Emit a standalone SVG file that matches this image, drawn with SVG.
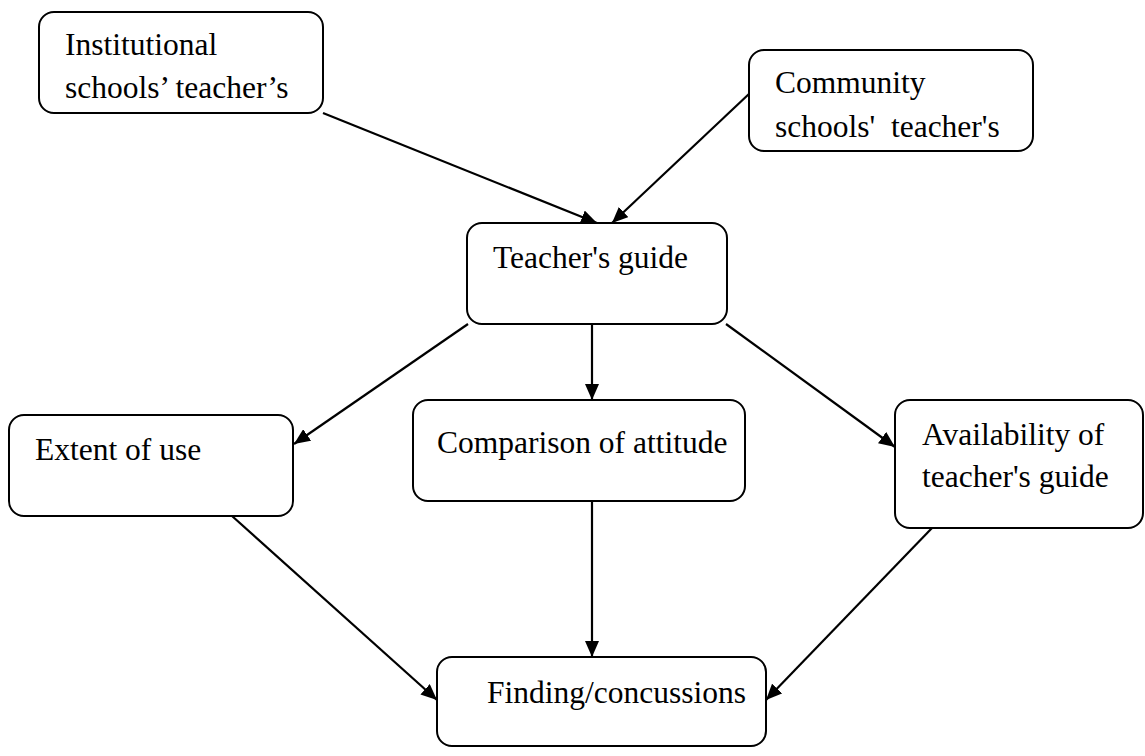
<svg xmlns="http://www.w3.org/2000/svg" width="1145" height="756" viewBox="0 0 1145 756">
<style>
.box{fill:#fff;stroke:#000;stroke-width:2}
.t{font-family:'Liberation Serif','Times New Roman','DejaVu Serif',serif;font-size:31.5px;fill:#000}
.c{stroke:#000;stroke-width:2.2;fill:none;marker-end:url(#ah)}
</style>
<defs>
<marker id="ah" viewBox="0 0 16 14" refX="16" refY="7" markerWidth="16" markerHeight="14" markerUnits="userSpaceOnUse" orient="auto">
<path d="M0,0 L16,7 L0,14 Z" fill="#000"/>
</marker>
</defs>
<rect width="1145" height="756" fill="#fff"/>
<g id="connectors">
<line class="c" x1="323" y1="113" x2="597" y2="223"/>
<line class="c" x1="750" y1="93" x2="612" y2="223"/>
<line class="c" x1="468" y1="324" x2="294" y2="444"/>
<line class="c" x1="592" y1="324" x2="592" y2="400"/>
<line class="c" x1="726" y1="324" x2="895" y2="447"/>
<line class="c" x1="232" y1="516" x2="437" y2="700"/>
<line class="c" x1="592" y1="501" x2="592" y2="657"/>
<line class="c" x1="932" y1="528" x2="766" y2="700"/>
</g>
<g id="institutional">
<rect class="box" x="39" y="12" width="284" height="101" rx="15"/>
<text class="t" x="65" y="55">Institutional</text>
<text class="t" x="65" y="98">schools’ teacher’s</text>
</g>
<g id="community">
<rect class="box" x="749" y="50" width="284" height="101" rx="15"/>
<text class="t" x="775" y="93">Community</text>
<text class="t" x="775" y="137" xml:space="preserve">schools'  teacher's</text>
</g>
<g id="teachers-guide">
<rect class="box" x="467" y="223" width="260" height="101" rx="15"/>
<text class="t" x="493" y="268">Teacher's guide</text>
</g>
<g id="extent">
<rect class="box" x="9" y="415" width="284" height="101" rx="15"/>
<text class="t" x="35" y="460">Extent of use</text>
</g>
<g id="comparison">
<rect class="box" x="413" y="400" width="332" height="101" rx="15"/>
<text class="t" x="437" y="453">Comparison of attitude</text>
</g>
<g id="availability">
<rect class="box" x="895" y="400" width="248" height="128" rx="15"/>
<text class="t" x="922" y="445">Availability of</text>
<text class="t" x="922" y="487">teacher's guide</text>
</g>
<g id="finding">
<rect class="box" x="437" y="657" width="329" height="89" rx="15"/>
<text class="t" x="487" y="703">Finding/concussions</text>
</g>
</svg>
